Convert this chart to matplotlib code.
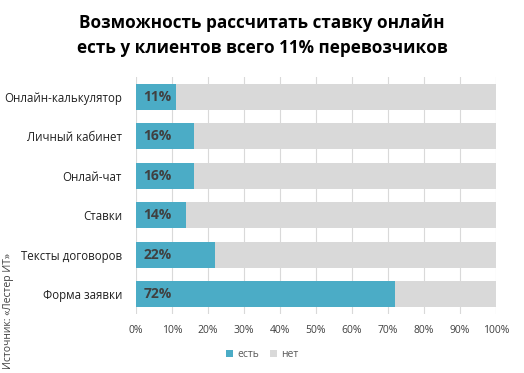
import matplotlib
matplotlib.use("Agg")
import matplotlib.pyplot as plt
import numpy as np

plt.rcParams['font.family'] = ['Open Sans', 'DejaVu Sans']

categories = ["Онлайн-калькулятор", "Личный кабинет", "Онлай-чат", "Ставки",
              "Тексты договоров", "Форма заявки"]
yes_vals = [11, 16, 16, 14, 22, 72]
no_vals = [100 - v for v in yes_vals]

yes_color = "#4BACC6"
no_color = "#D9D9D9"

fig = plt.figure(figsize=(5.24, 3.73), dpi=100)
ax = fig.add_axes([0.2595, 0.159, 0.6871, 0.634])

y = np.arange(len(categories))[::-1]
ax.barh(y, yes_vals, height=0.66, color=yes_color, label="есть", zorder=3)
ax.barh(y, no_vals, left=yes_vals, height=0.66, color=no_color, label="нет", zorder=3)

for yi, v in zip(y, yes_vals):
    ax.text(2, yi, f"{v}%", va="center", ha="left", fontsize=10,
            fontweight="bold", color="#404040", zorder=4)

ax.set_xlim(0, 100)
ax.set_ylim(-0.5, len(categories) - 0.5)
ax.set_xticks(np.arange(0, 101, 10))
ax.set_xticklabels([f"{t}%" for t in range(0, 101, 10)], fontsize=7.5, color="#404040")
ax.set_yticks(y)
ax.set_yticklabels(categories, fontsize=8.3, color="#202020")
ax.tick_params(axis="y", length=0, pad=10)
ax.tick_params(axis="x", length=0, pad=8)
ax.grid(axis="x", color="#D9D9D9", linewidth=0.8, zorder=0)
for s in ax.spines.values():
    s.set_visible(False)

fig.text(0.5, 0.905, "Возможность рассчитать ставку онлайн\nесть у клиентов всего 11% перевозчиков",
         ha="center", va="center", fontsize=12.3, fontweight="bold", linespacing=1.5)

fig.text(0.016, 0.01, "Источник: «Лестер ИТ»", rotation=90, ha="center", va="bottom",
         fontsize=7.5, color="#404040")

leg = fig.legend(loc="center", bbox_to_anchor=(0.5, 0.05), ncol=2, frameon=False,
                 fontsize=7.5, handlelength=0.7, handleheight=0.7, columnspacing=1.0,
                 handletextpad=0.4)
for t in leg.get_texts():
    t.set_color("#595959")

fig.savefig("out.png", dpi=100)
